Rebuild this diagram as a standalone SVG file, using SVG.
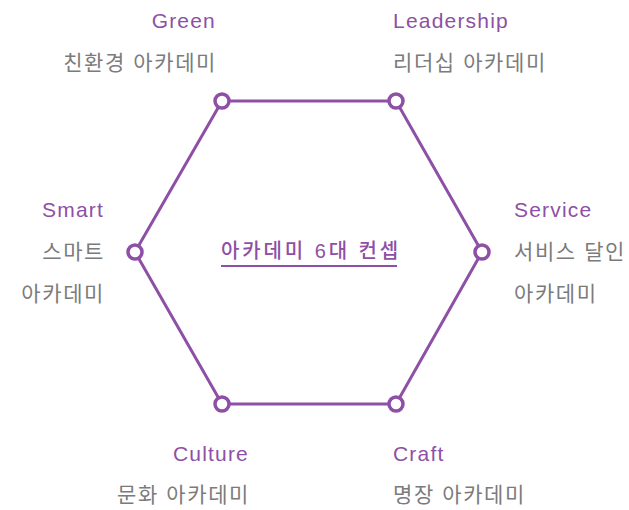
<svg xmlns="http://www.w3.org/2000/svg" width="629" height="510" viewBox="0 0 629 510">
  <style>
    .en { font-family: "Liberation Sans", "Noto Sans CJK KR", sans-serif; font-size: 21px; letter-spacing: 1.2px; fill: #8e4fa6; }
    .ko { font-family: "Liberation Sans", "Noto Sans CJK KR", sans-serif; font-size: 21px; letter-spacing: 1.6px; fill: #7b7b7b; }
    .title { font-family: "Liberation Sans", "Noto Sans CJK KR", sans-serif; font-size: 20px; letter-spacing: 2.9px; fill: #8e4fa6; font-weight: 500; }
    .edge { fill: none; stroke: #8e4fa6; stroke-width: 3; stroke-linejoin: round; }
    .dot { fill: #ffffff; stroke: #8e4fa6; stroke-width: 3.5; }
    .r { text-anchor: end; }
  </style>
  <rect width="629" height="510" fill="#ffffff"/>
  <g id="connectors">
    <polygon class="edge" points="222,101 396,101 482,252 396,404 222,404 135,252"/>
  </g>
  <g id="center">
    <text class="title" x="311" y="258" text-anchor="middle">아카데미 6대 컨셉</text>
    <line x1="221" y1="266" x2="397" y2="266" stroke="#8e4fa6" stroke-width="2"/>
  </g>
  <g id="green">
    <circle class="dot" cx="222" cy="101" r="7"/>
    <text class="en r" x="216" y="28">Green</text>
    <text class="ko r" x="217" y="70">친환경 아카데미</text>
  </g>
  <g id="leadership">
    <circle class="dot" cx="396" cy="101" r="7"/>
    <text class="en" x="393" y="28">Leadership</text>
    <text class="ko" x="393" y="70">리더십 아카데미</text>
  </g>
  <g id="service">
    <circle class="dot" cx="482" cy="252" r="7"/>
    <text class="en" x="514" y="217">Service</text>
    <text class="ko" x="514" y="259">서비스 달인</text>
    <text class="ko" x="514" y="301">아카데미</text>
  </g>
  <g id="craft">
    <circle class="dot" cx="396" cy="404" r="7"/>
    <text class="en" x="393" y="461">Craft</text>
    <text class="ko" x="393" y="502">명장 아카데미</text>
  </g>
  <g id="culture">
    <circle class="dot" cx="222" cy="404" r="7"/>
    <text class="en r" x="249" y="461">Culture</text>
    <text class="ko r" x="250" y="502">문화 아카데미</text>
  </g>
  <g id="smart">
    <circle class="dot" cx="135" cy="252" r="7"/>
    <text class="en r" x="104" y="217">Smart</text>
    <text class="ko r" x="105" y="259">스마트</text>
    <text class="ko r" x="105" y="301">아카데미</text>
  </g>
</svg>
